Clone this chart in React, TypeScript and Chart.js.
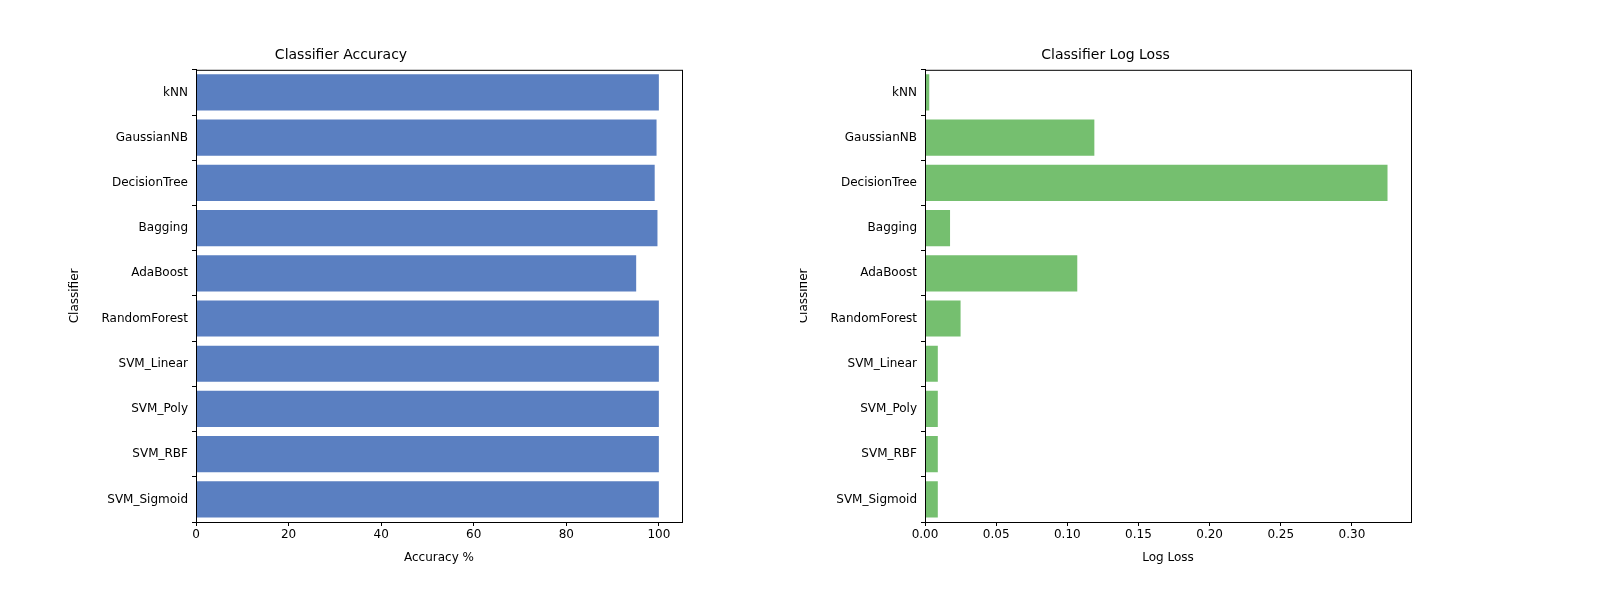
import { useEffect, useRef } from "react";
import { Chart, registerables } from "chart.js";
Chart.register(...registerables);

const classifiers = ["kNN", "GaussianNB", "DecisionTree", "Bagging", "AdaBoost", "RandomForest", "SVM_Linear", "SVM_Poly", "SVM_RBF", "SVM_Sigmoid"];
const accuracy = [100, 99.5, 99.1, 99.7, 95.1, 100, 100, 100, 100, 100];
const logLoss = [0.003, 0.119, 0.325, 0.0176, 0.107, 0.025, 0.009, 0.009, 0.009, 0.009];
const accTicks = [0, 20, 40, 60, 80, 100];
const lossTicks = [0, 0.05, 0.1, 0.15, 0.2, 0.25, 0.3];

const FONT = "'DejaVu Sans', sans-serif";

// frame around the plot plus axis titles at fixed offsets (matplotlib style)
const frame = {
  id: "frame",
  afterDraw(chart: any, _args: any, opts: any) {
    const { ctx, chartArea: a } = chart;
    ctx.save();
    ctx.strokeStyle = "#000";
    ctx.lineWidth = 1;
    ctx.strokeRect(a.left + 0.5, a.top + 0.5, a.right - a.left, a.bottom - a.top);
    ctx.fillStyle = "#000";
    ctx.font = "12px " + FONT;
    ctx.textAlign = "center";
    ctx.textBaseline = "middle";
    ctx.fillText(opts.xTitle, (a.left + a.right) / 2, a.bottom + 36);
    ctx.translate(a.left - 121, (a.top + a.bottom) / 2);
    ctx.rotate(-Math.PI / 2);
    ctx.fillText("Classifier", 0, 0);
    ctx.restore();
  },
};

function Panel(props: {
  title: string; xTitle: string; values: number[]; color: string; max: number;
  ticks: number[]; fmt: (v: number) => string; yWidth: number; padRight: number; left: number;
}) {
  const ref = useRef<HTMLCanvasElement | null>(null);
  useEffect(() => {
    if (!ref.current) return;
    const chart = new Chart(ref.current, {
      type: "bar",
      data: { labels: classifiers, datasets: [{ data: props.values, backgroundColor: props.color, categoryPercentage: 0.8, barPercentage: 1 }] },
      options: {
        indexAxis: "y",
        animation: false,
        responsive: false,
        devicePixelRatio: 1,
        layout: { padding: { left: 0, right: props.padRight, top: 0, bottom: 0 } },
        plugins: {
          legend: { display: false },
          tooltip: { enabled: false },
          title: { display: true, text: props.title, color: "#000", font: { family: FONT, size: 14, weight: "normal" }, padding: { top: 47, bottom: 6 } },
          frame: { xTitle: props.xTitle },
        } as any,
        scales: {
          x: {
            min: 0, max: props.max,
            afterBuildTicks: (s: any) => { s.ticks = props.ticks.map((v) => ({ value: v })); },
            afterFit: (s: any) => { s.height = 78; },
            ticks: { color: "#000", font: { family: FONT, size: 12 }, callback: (v: any) => props.fmt(Number(v)), maxRotation: 0, padding: 2 },
            grid: { drawOnChartArea: false, drawTicks: true, tickLength: 4, color: "#000" },
            border: { color: "#000" },
          },
          y: {
            afterFit: (s: any) => { s.width = props.yWidth; },
            ticks: { color: "#000", font: { family: FONT, size: 12 }, padding: 4 },
            grid: { drawOnChartArea: false, drawTicks: true, tickLength: 4, color: "#000" },
            border: { color: "#000" },
          },
        },
      },
      plugins: [frame],
    });
    return () => chart.destroy();
  }, []);
  return <canvas ref={ref} width={800} height={600} style={{ position: "absolute", left: props.left, top: 0, width: 800, height: 600 }} />;
}

export default function App() {
  useEffect(() => {
    document.body.style.margin = "0";
    document.body.style.overflow = "hidden";
    document.documentElement.style.overflow = "hidden";
  }, []);
  return (
    <div style={{ position: "relative", width: 1600, height: 600, background: "#fff", overflow: "hidden" }}>
      <Panel title="Classifier Accuracy" xTitle="Accuracy %" values={accuracy} color="#5a7fc1" max={105}
        ticks={accTicks} fmt={(v) => String(v)} yWidth={196} padRight={118} left={0} />
      <Panel title="Classifier Log Loss" xTitle="Log Loss" values={logLoss} color="#75bf6f" max={0.3415}
        ticks={lossTicks} fmt={(v) => v.toFixed(2)} yWidth={125} padRight={189} left={800} />
    </div>
  );
}
